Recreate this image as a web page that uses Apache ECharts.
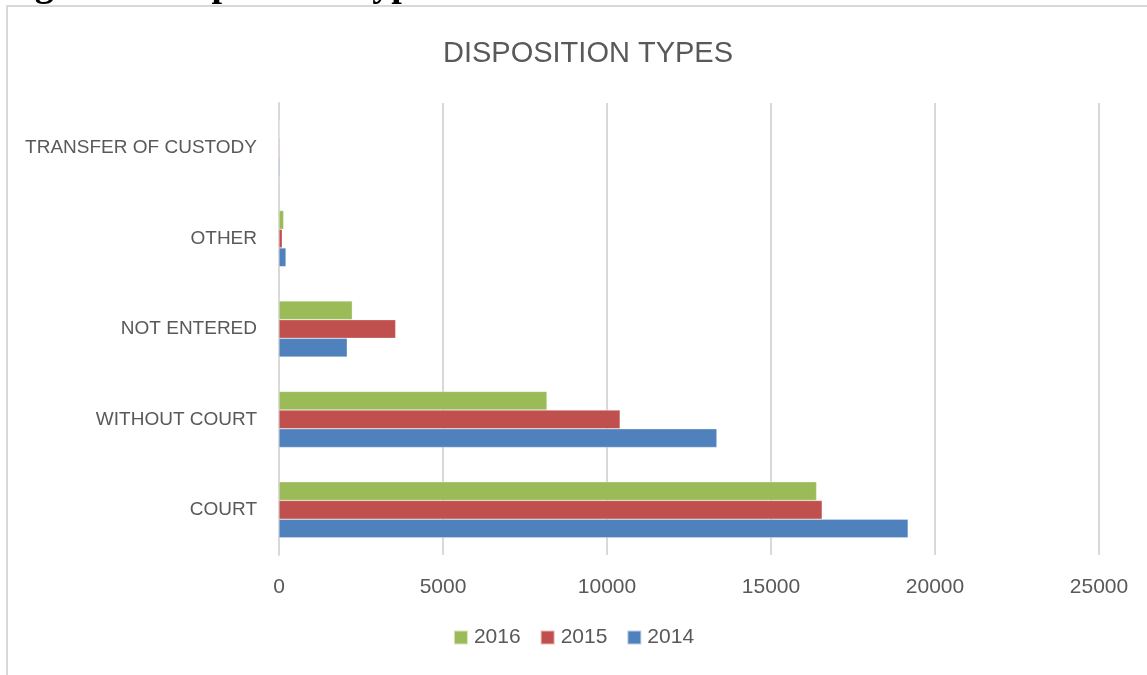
<!DOCTYPE html>
<html>
<head>
<meta charset="utf-8">
<script src="https://cdn.jsdelivr.net/npm/echarts@6/dist/echarts.min.js"></script>
<style>
  html, body { margin: 0; padding: 0; background: #ffffff; }
  #chart { width: 1147px; height: 675px; }
</style>
</head>
<body>
<div id="chart"></div>
<script>
// Disposition counts by type and year
const categories = ['COURT', 'WITHOUT COURT', 'NOT ENTERED', 'OTHER', 'TRANSFER OF CUSTODY'];
const values2014 = [19180, 13350, 2080, 213, 30];
const values2015 = [16560, 10400, 3557, 100, 25];
const values2016 = [16390, 8170, 2235, 143, 20];
const xTicks = [0, 5000, 10000, 15000, 20000, 25000];

const textColor = '#595959';
const gridColor = '#d9d9d9';
const fontFamily = '"Liberation Sans", Arial, sans-serif';

const chart = echarts.init(document.getElementById('chart'), null, { renderer: 'canvas' });

function barSeries(name, data, color) {
  return {
    name: name,
    type: 'bar',
    data: data,
    barGap: '0%',
    barCategoryGap: '38%',
    itemStyle: { color: color, borderColor: 'rgba(255,255,255,0.6)', borderWidth: 0.5 },
    emphasis: { disabled: true }
  };
}

chart.setOption({
  animation: false,
  backgroundColor: '#ffffff',
  title: {
    text: 'DISPOSITION TYPES',
    left: 583,
    textAlign: 'center',
    top: 34,
    textStyle: { fontFamily: fontFamily, fontSize: 29, fontWeight: 'normal', color: textColor }
  },
  grid: { left: 279, right: 48, top: 103, bottom: 120 },
  legend: {
    data: ['2016', '2015', '2014'],
    bottom: 22,
    left: 'center',
    icon: 'rect',
    itemWidth: 14,
    itemHeight: 14,
    itemGap: 19,
    textStyle: { fontFamily: fontFamily, fontSize: 21, color: textColor, padding: [0, 0, 0, 1] }
  },
  xAxis: {
    type: 'value',
    min: xTicks[0],
    max: xTicks[xTicks.length - 1],
    interval: xTicks[1] - xTicks[0],
    axisLine: { show: false },
    axisTick: { show: false },
    splitLine: { show: true, lineStyle: { color: gridColor, width: 2 } },
    axisLabel: {
      margin: 22,
      fontFamily: fontFamily,
      fontSize: 21,
      color: textColor,
      formatter: function (v) { return String(v); }
    }
  },
  yAxis: {
    type: 'category',
    data: categories,
    axisLine: { show: true, lineStyle: { color: gridColor, width: 2 } },
    axisTick: { show: false },
    axisLabel: { margin: 22, fontFamily: fontFamily, fontSize: 19, color: textColor }
  },
  series: [
    barSeries('2016', values2016, '#9bbb59'),
    barSeries('2015', values2015, '#c0504d'),
    barSeries('2014', values2014, '#4f81bd')
  ],
  graphic: [
    {
      type: 'rect',
      shape: { x: 7, y: 6, width: 1160, height: 690 },
      style: { fill: 'none', stroke: gridColor, lineWidth: 2 },
      silent: true
    },
    {
      type: 'text',
      x: 1,
      y: 5,
      style: {
        text: 'Figure 6: Disposition Types',
        font: 'bold 38px "Liberation Serif", "Times New Roman", serif',
        lineHeight: 38,
        fill: '#000000',
        verticalAlign: 'bottom'
      },
      silent: true
    }
  ]
});
</script>
</body>
</html>
